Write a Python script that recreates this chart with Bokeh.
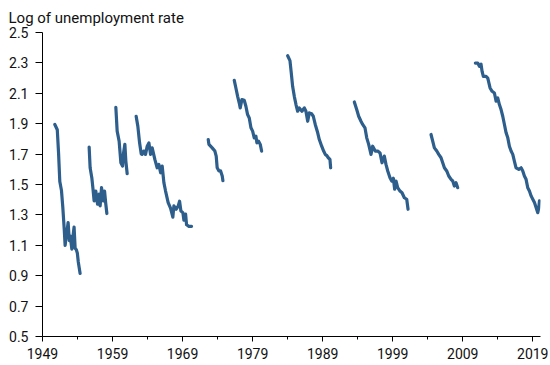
from bokeh.plotting import figure
from bokeh.models import Range1d, FixedTicker, ColumnDataSource
from bokeh.embed import file_html
from bokeh.resources import INLINE

# ---- data ----
seg1_years = [1950.76, 1951.11, 1951.29, 1951.47, 1951.71, 1951.9, 1952.11, 1952.23, 1952.43, 1952.66,
              1952.83, 1952.97, 1953.19, 1953.33, 1953.51, 1953.66, 1953.83, 1953.97, 1954.11, 1954.37]
seg1_vals = [1.895, 1.86, 1.71, 1.52, 1.46, 1.35, 1.2, 1.10, 1.17, 1.25,
             1.13, 1.16, 1.075, 1.15, 1.22, 1.08, 1.07, 1.05, 0.99, 0.915]

seg2_years = [1955.66, 1955.8, 1956.04, 1956.19, 1956.37, 1956.61, 1956.86, 1957.09, 1957.23, 1957.43,
              1957.66, 1957.86, 1958.04, 1958.19]
seg2_vals = [1.746, 1.61, 1.545, 1.479, 1.392, 1.457, 1.37, 1.436, 1.359, 1.479,
             1.392, 1.457, 1.37, 1.309]

seg3_years = [1959.47, 1959.66, 1959.94, 1960.19, 1960.43, 1960.57, 1960.76, 1960.9, 1961.09]
seg3_vals = [2.008, 1.851, 1.785, 1.643, 1.621, 1.708, 1.764, 1.654, 1.571]

seg4_years = [1962.37, 1962.61, 1962.86, 1963.1, 1963.23, 1963.45, 1963.71, 1963.95, 1964.19, 1964.43,
              1964.66, 1965.04, 1965.37, 1965.61, 1965.86, 1966.09, 1966.33, 1966.57, 1966.94, 1967.28,
              1967.61, 1967.76, 1968.09, 1968.38, 1968.57, 1968.76, 1969.04, 1969.19, 1969.43, 1969.57,
              1969.9, 1970.28]
seg4_vals = [1.949, 1.884, 1.774, 1.70, 1.698, 1.72, 1.698, 1.752, 1.774, 1.698,
             1.741, 1.665, 1.61, 1.632, 1.577, 1.621, 1.512, 1.457, 1.381, 1.345,
             1.285, 1.359, 1.337, 1.359, 1.39, 1.326, 1.315, 1.265, 1.305, 1.235,
             1.225, 1.225]

seg5_years = [1972.66, 1972.76, 1973.23, 1973.61, 1973.8, 1973.94, 1974.19, 1974.43, 1974.66, 1974.76]
seg5_vals = [1.796, 1.764, 1.741, 1.72, 1.687, 1.61, 1.589, 1.589, 1.556, 1.525]

seg6_years = [1976.38, 1976.61, 1976.86, 1977.09, 1977.23, 1977.47, 1977.8, 1978.04, 1978.28, 1978.52,
              1978.76, 1979.0, 1979.23, 1979.47, 1979.61, 1979.85, 1980.09, 1980.28]
seg6_vals = [2.185, 2.135, 2.08, 2.036, 2.004, 2.059, 2.054, 2.015, 1.96, 1.938,
             1.873, 1.851, 1.807, 1.818, 1.774, 1.785, 1.764, 1.72]

seg7_years = [1984.0, 1984.33, 1984.52, 1984.71, 1984.95, 1985.19, 1985.43, 1985.66, 1986.04, 1986.38,
              1986.61, 1986.86, 1987.09, 1987.43, 1987.66, 1987.94, 1988.29, 1988.52, 1988.86, 1989.14,
              1989.37, 1989.6, 1989.8, 1990.04, 1990.14]
seg7_vals = [2.347, 2.315, 2.233, 2.146, 2.08, 2.026, 1.982, 2.004, 1.982, 2.004,
             1.982, 1.916, 1.971, 1.965, 1.949, 1.895, 1.84, 1.796, 1.752, 1.72,
             1.698, 1.69, 1.676, 1.665, 1.61]

seg8_years = [1993.52, 1993.86, 1994.14, 1994.47, 1994.71, 1995.04, 1995.29, 1995.57, 1995.9, 1996.14,
              1996.51, 1996.86, 1997.19, 1997.47, 1997.8, 1998.04, 1998.29, 1998.61, 1998.86, 1999.09,
              1999.28, 1999.47, 1999.71, 2000.04, 2000.33, 2000.66, 2001.0, 2001.19]
seg8_vals = [2.043, 1.993, 1.949, 1.916, 1.895, 1.873, 1.807, 1.764, 1.698, 1.752,
             1.72, 1.72, 1.708, 1.643, 1.687, 1.632, 1.589, 1.545, 1.523, 1.541,
             1.469, 1.523, 1.479, 1.457, 1.446, 1.413, 1.403, 1.337]

seg9_years = [2004.47, 2004.71, 2004.95, 2005.29, 2005.57, 2005.9, 2006.14, 2006.38, 2006.71, 2007.0,
              2007.33, 2007.57, 2007.8, 2008.04, 2008.28]
seg9_vals = [1.829, 1.785, 1.741, 1.72, 1.698, 1.676, 1.643, 1.61, 1.589, 1.556,
             1.534, 1.523, 1.49, 1.512, 1.479]

seg10_years = [2010.8, 2011.14, 2011.38, 2011.61, 2011.76, 2011.94, 2012.33, 2012.57, 2012.9, 2013.19,
               2013.52, 2013.76, 2014.0, 2014.23, 2014.47, 2014.71, 2014.95, 2015.19, 2015.43, 2015.66,
               2015.9, 2016.14, 2016.37, 2016.61, 2017.0, 2017.33, 2017.57, 2017.8, 2018.04, 2018.28,
               2018.52, 2018.76, 2019.0, 2019.24, 2019.47, 2019.71, 2019.86, 2019.95]
seg10_vals = [2.299, 2.299, 2.277, 2.292, 2.244, 2.211, 2.211, 2.2, 2.135, 2.113,
              2.102, 2.048, 2.069, 2.026, 1.993, 1.949, 1.895, 1.84, 1.807, 1.752,
              1.72, 1.698, 1.654, 1.61, 1.6, 1.61, 1.589, 1.556, 1.534, 1.479,
              1.457, 1.425, 1.403, 1.381, 1.348, 1.315, 1.348, 1.392]

x_major_ticks = [1949, 1959, 1969, 1979, 1989, 1999, 2009, 2019]
x_minor_ticks = [1954, 1964, 1974, 1984, 1994, 2004, 2014]
y_ticks = [0.5, 0.7, 0.9, 1.1, 1.3, 1.5, 1.7, 1.9, 2.1, 2.3, 2.5]

all_years = [seg1_years, seg2_years, seg3_years, seg4_years, seg5_years,
             seg6_years, seg7_years, seg8_years, seg9_years, seg10_years]
all_vals = [seg1_vals, seg2_vals, seg3_vals, seg4_vals, seg5_vals,
            seg6_vals, seg7_vals, seg8_vals, seg9_vals, seg10_vals]

FONT = "Roboto"
LINE_COLOR = "#2d5e8c"

p = figure(width=548, height=362, output_backend="svg", toolbar_location=None,
           x_range=Range1d(1949, 2020.1), y_range=Range1d(0.5, 2.5),
           min_border_left=42, min_border_right=8, min_border_top=31, min_border_bottom=26)

p.title.text = "Log of unemployment rate"
p.title.align = "left"
p.title.offset = -34
p.title.text_font = FONT
p.title.text_font_size = "15px"
p.title.text_font_style = "normal"
p.title.text_color = "#111111"
p.title.standoff = 12

src = ColumnDataSource(data=dict(xs=all_years, ys=all_vals))
p.multi_line(xs="xs", ys="ys", source=src, line_color=LINE_COLOR, line_width=3.2,
             line_join="round", line_cap="round")

p.xgrid.visible = False
p.ygrid.visible = False
p.outline_line_color = None

p.xaxis.ticker = FixedTicker(ticks=x_major_ticks, minor_ticks=x_minor_ticks)
p.yaxis.ticker = FixedTicker(ticks=y_ticks)

for ax in (p.xaxis, p.yaxis):
    ax.axis_line_color = "black"
    ax.axis_line_width = 1
    ax.major_tick_line_color = "black"
    ax.minor_tick_line_color = "black"
    ax.major_tick_in = 0
    ax.minor_tick_in = 0
    ax.major_label_text_font = FONT
    ax.major_label_text_font_size = "14px"
    ax.major_label_text_color = "#111111"

p.xaxis.major_tick_out = 5
p.xaxis.minor_tick_out = 3
p.xaxis.major_label_standoff = 6
p.yaxis.major_tick_out = 7
p.yaxis.minor_tick_out = 0
p.yaxis.major_label_standoff = 7

open("out.html", "w").write(file_html(p, INLINE))
